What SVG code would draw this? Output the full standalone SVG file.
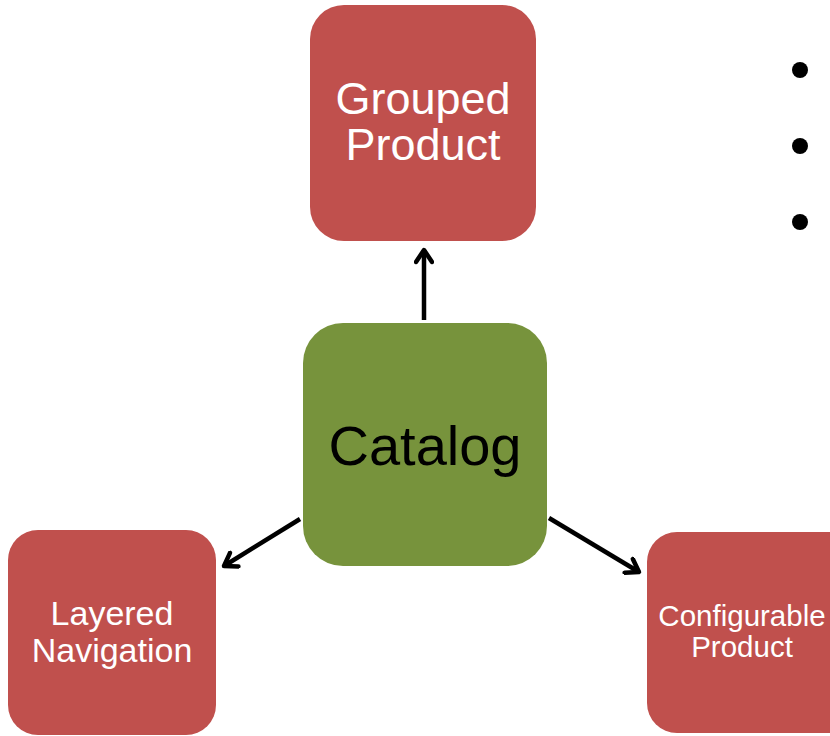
<svg xmlns="http://www.w3.org/2000/svg" width="830" height="736" viewBox="0 0 830 736">
  <defs>
    <marker id="arr" viewBox="0 0 20 20" refX="16" refY="10" markerWidth="20" markerHeight="20" markerUnits="userSpaceOnUse" orient="auto">
      <path d="M4,2 L16,10 L4,18" fill="none" stroke="#000" stroke-width="4.5" stroke-linecap="round" stroke-linejoin="round"/>
    </marker>
    <style>
      .red { fill: #C0504D; }
      .green { fill: #77933C; }
      .lbl { font-family: "Liberation Sans", Arial, sans-serif; text-anchor: middle; fill: #fff; }
      .conn { stroke: #000; stroke-width: 4.5; fill: none; marker-end: url(#arr); }
    </style>
  </defs>
  <rect width="830" height="736" fill="#fff"/>
  <g id="connectors">
    <line class="conn" x1="424" y1="320" x2="424" y2="250"/>
    <line class="conn" x1="300" y1="519" x2="224" y2="566"/>
    <line class="conn" x1="549" y1="518" x2="639" y2="572"/>
  </g>
  <g id="grouped">
    <rect class="red" x="310" y="5" width="226" height="236" rx="34"/>
    <text class="lbl" x="423" y="114" font-size="45">Grouped</text>
    <text class="lbl" x="423" y="160" font-size="45">Product</text>
  </g>
  <g id="catalog">
    <rect class="green" x="303" y="323" width="244" height="243" rx="40"/>
    <text class="lbl" x="425" y="465" font-size="56" style="fill:#000">Catalog</text>
  </g>
  <g id="layered">
    <rect class="red" x="8" y="530" width="208" height="205" rx="30"/>
    <text class="lbl" x="112" y="625" font-size="34">Layered</text>
    <text class="lbl" x="112" y="662" font-size="34">Navigation</text>
  </g>
  <g id="configurable">
    <rect class="red" x="647" y="532" width="220" height="201" rx="30"/>
    <text class="lbl" x="742" y="626" font-size="29.5">Configurable</text>
    <text class="lbl" x="742" y="657" font-size="29.5">Product</text>
  </g>
  <g id="bullets" fill="#000">
    <circle cx="800" cy="70" r="8"/>
    <circle cx="800" cy="146" r="8"/>
    <circle cx="800" cy="222" r="8"/>
  </g>
</svg>
